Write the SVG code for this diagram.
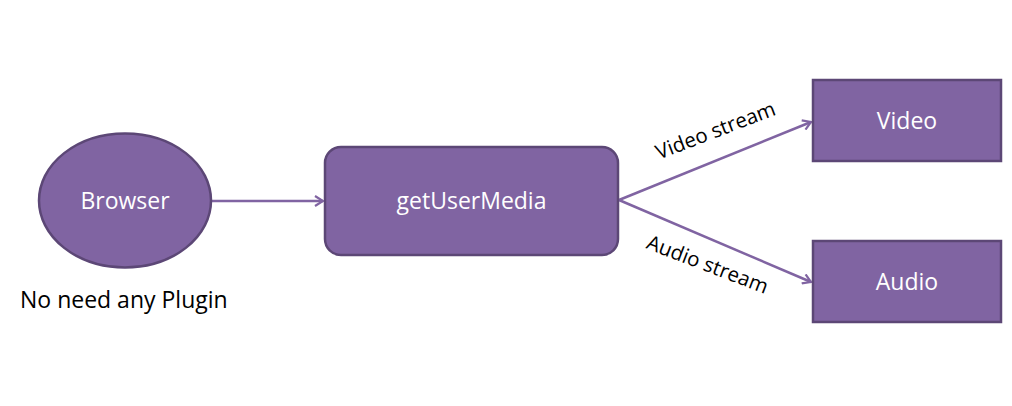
<svg xmlns="http://www.w3.org/2000/svg" width="1012" height="406" viewBox="0 0 1012 406">
<defs>
<style>
.node{fill:#8064A2;stroke:#5C4776;stroke-width:2.5}
.nt{font-family:"Open Sans","Liberation Sans",sans-serif;font-size:23px;fill:#ffffff;text-anchor:middle}
.lt{font-family:"Open Sans","Liberation Sans",sans-serif;font-size:20.5px;fill:#000000;text-anchor:middle}
.edge{stroke:#8064A2;stroke-width:2.5;fill:none}
</style>
<marker id="arr" viewBox="0 0 12 12" refX="10" refY="6" markerWidth="12" markerHeight="12" markerUnits="userSpaceOnUse" orient="auto">
<path d="M2,1 L10,6 L2,11" fill="none" stroke="#8064A2" stroke-width="2.2"/>
</marker>
</defs>
<rect width="1012" height="406" fill="#ffffff"/>
<g id="connectors">
<line class="edge" x1="212" y1="201" x2="323" y2="201" marker-end="url(#arr)"/>
<line class="edge" x1="619" y1="200" x2="811" y2="122" marker-end="url(#arr)"/>
<line class="edge" x1="619" y1="200" x2="811" y2="282" marker-end="url(#arr)"/>
<text class="lt" transform="translate(718,137) rotate(-21)">Video stream</text>
<text class="lt" transform="translate(705,271) rotate(21)">Audio stream</text>
</g>
<g id="browser">
<ellipse class="node" cx="125" cy="200.5" rx="86" ry="67"/>
<text class="nt" x="125" y="209">Browser</text>
</g>
<g id="getUserMedia">
<rect class="node" x="325" y="147" width="293" height="108" rx="16"/>
<text class="nt" x="471.5" y="209">getUserMedia</text>
</g>
<g id="video">
<rect class="node" x="813" y="80" width="188" height="81"/>
<text class="nt" x="907" y="129">Video</text>
</g>
<g id="audio">
<rect class="node" x="813" y="241" width="188" height="81"/>
<text class="nt" x="907" y="290">Audio</text>
</g>
<g id="note">
<text x="20" y="308" font-family="'Open Sans','Liberation Sans',sans-serif" font-size="23" fill="#000000">No need any Plugin</text>
</g>
</svg>
